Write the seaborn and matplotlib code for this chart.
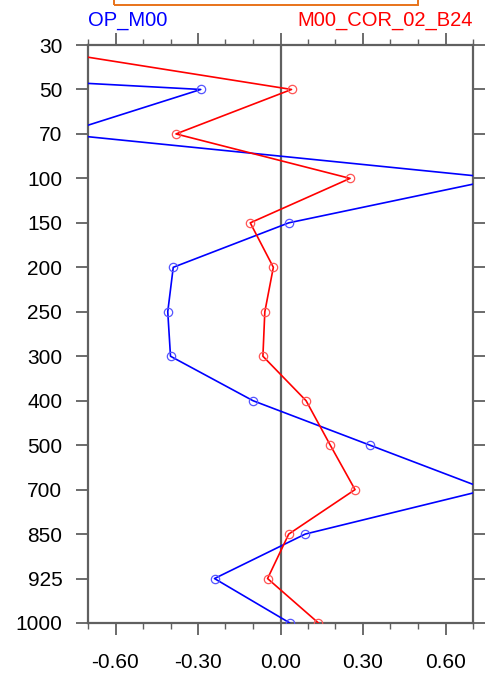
import matplotlib
matplotlib.use("Agg")
import matplotlib.pyplot as plt
import seaborn as sns
import numpy as np
import pandas as pd
from matplotlib.patches import Rectangle

levels = ["30", "50", "70", "100", "150", "200", "250", "300", "400", "500", "700", "850", "925", "1000"]
op_m00 = [-3.3, -0.29, -0.80, 0.80, 0.03, -0.39, -0.41, -0.40, -0.10, 0.325, 0.75, 0.09, -0.24, 0.034]
m00_cor = [-0.98, 0.04, -0.38, 0.253, -0.11, -0.026, -0.057, -0.064, 0.093, 0.181, 0.271, 0.03, -0.047, 0.138]
xticks = [-0.6, -0.3, 0.0, 0.3, 0.6]
xticklabels = ["-0.60", "-0.30", "0.00", "0.30", "0.60"]

sns.set_style("ticks")
plt.rcParams['font.family'] = ['Liberation Sans', 'DejaVu Sans']
plt.rcParams['axes.unicode_minus'] = False

fig = plt.figure(figsize=(4.91, 6.73), dpi=100)
ax = fig.add_axes([88/491, 50/673, 385/491, 578/673])

idx = np.arange(len(levels))
df = pd.DataFrame({"lev": idx, "op": op_m00, "cor": m00_cor})

gray = "#606060"
ax.axvline(0, color=gray, lw=1.6, zorder=1)

sns.lineplot(data=df, x="op", y="lev", orient="y", sort=False, ax=ax, color="#0000FF",
             lw=1.2, marker="o", markersize=6, markerfacecolor="none",
             markeredgecolor="#5555FF", markeredgewidth=0.9, zorder=3)
sns.lineplot(data=df, x="cor", y="lev", orient="y", sort=False, ax=ax, color="#FF0000",
             lw=1.2, marker="o", markersize=6, markerfacecolor="none",
             markeredgecolor="#FF5555", markeredgewidth=0.9, zorder=3)

ax.set_xlim(-0.7, 0.7)
ax.set_ylim(len(levels) - 1, 0)
ax.set_xlabel("")
ax.set_ylabel("")

ax.set_yticks(idx)
ax.set_yticklabels(levels, fontsize=15, color="black")
ax.set_xticks(xticks)
ax.set_xticklabels(xticklabels, fontsize=15, color="black")
ax.set_xticks(np.arange(-0.7, 0.71, 0.1), minor=True)

for s in ax.spines.values():
    s.set_color(gray)
    s.set_linewidth(1.6)

ax.tick_params(axis="x", which="major", direction="out", length=8.5, width=1.3, color=gray,
               top=True, bottom=True, pad=13)
ax.tick_params(axis="x", which="minor", direction="out", length=4.5, width=1.0, color=gray,
               top=True, bottom=True)
ax.tick_params(axis="y", which="major", direction="out", length=8.5, width=1.3, color=gray,
               left=True, right=True, pad=10)
ax.tick_params(axis="y", which="minor", left=False, right=False)

ax.text(0, 1 + 19/578, "OP_M00", transform=ax.transAxes, color="#0000FF",
        fontsize=14.5, ha="left", va="baseline")
ax.text(1, 1 + 19/578, "M00_COR_02_B24", transform=ax.transAxes, color="#FF0000",
        fontsize=14.5, ha="right", va="baseline")

rect = Rectangle((114/491, (673-5)/673), (418-114)/491, 0.1, transform=fig.transFigure,
                 fill=False, edgecolor="#E8731A", lw=1.4, clip_on=False)
fig.patches.append(rect)

ax.legend_ = None
fig.savefig("out.png", dpi=100)
